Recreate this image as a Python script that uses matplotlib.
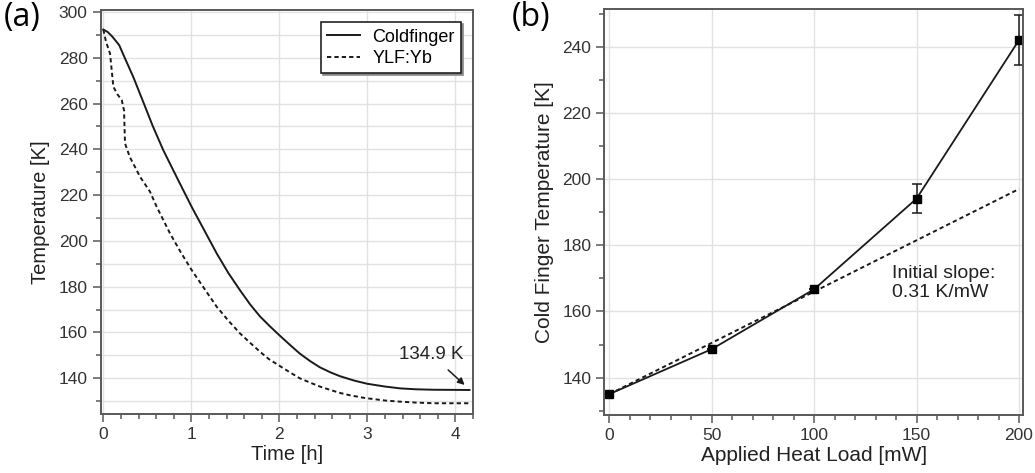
import numpy as np
import matplotlib
matplotlib.use("Agg")
import matplotlib.pyplot as plt
from matplotlib.ticker import MultipleLocator

plt.rcParams['font.family'] = ['Liberation Sans', 'DejaVu Sans']

# (a) cool-down curves
t_cold = [0.0, 0.05, 0.1, 0.18, 0.246, 0.34, 0.454, 0.56, 0.68, 0.851, 1.003,
          1.15, 1.287, 1.42, 1.55, 1.665, 1.78, 1.89, 2.0, 2.12, 2.232, 2.35,
          2.46, 2.58, 2.69, 2.85, 3.0, 3.2, 3.37, 3.55, 3.75, 3.95, 4.16]
T_cold = [292.3, 291.2, 289.3, 285.5, 279.7, 271.6, 260.6, 250.3, 239.7, 226.5, 214.9,
          204.4, 194.6, 186.0, 178.6, 172.4, 167.0, 162.8, 158.8, 154.6, 150.8, 147.5,
          144.8, 142.6, 140.9, 139.0, 137.6, 136.4, 135.6, 135.2, 135.0, 134.95, 134.9]
t_ylf = [0.0, 0.03, 0.076, 0.114, 0.16, 0.209, 0.235, 0.246, 0.3, 0.417, 0.53,
         0.606, 0.757, 0.88, 1.003, 1.15, 1.287, 1.42, 1.55, 1.665, 1.78, 1.88,
         2.0, 2.12, 2.232, 2.35, 2.46, 2.58, 2.69, 2.8, 2.97, 3.2, 3.37, 3.55,
         3.75, 4.16]
T_ylf = [292.3, 287.0, 281.8, 267.3, 264.0, 261.5, 257.0, 242.6, 236.7, 228.0, 221.5,
         214.9, 203.3, 195.0, 187.3, 179.0, 171.3, 165.2, 159.7, 155.6, 151.6, 148.4,
         145.5, 142.6, 140.0, 138.1, 136.4, 134.9, 133.6, 132.6, 131.4, 130.3, 129.8,
         129.4, 129.1, 129.1]

# (b) heat load measurements
load = [0, 50, 100, 150, 200]
T_load = [135.0, 148.6, 166.7, 194.1, 242.0]
T_err = [0.0, 0.0, 0.0, 4.3, 7.5]
slope = 0.31
slope_x = [0, 200]

ink = '#1a1a1a'
spine_c = '#595959'
grid_c = '#e2e2e2'

fig = plt.figure(figsize=(10.35, 4.73), dpi=100)
ax1 = fig.add_axes([0.0973, 0.1247, 0.3597, 0.854])
ax2 = fig.add_axes([0.5839, 0.1226, 0.4048, 0.8584])


def style(ax):
    for s in ax.spines.values():
        s.set_color(spine_c)
        s.set_linewidth(1.4)
    ax.tick_params(which='both', direction='out', top=False, right=False,
                   colors=spine_c, labelcolor='#333333', labelsize=12.5, width=1.1)
    ax.tick_params(which='major', length=6)
    ax.tick_params(which='minor', length=3.5)
    ax.set_axisbelow(True)


# panel (a)
ax1.plot(t_cold, T_cold, color=ink, lw=1.4, label='Coldfinger')
ax1.plot(t_ylf, T_ylf, color=ink, lw=1.4, ls=(0, (2.2, 1.6)), label='YLF:Yb')
ax1.set_xlim(-0.03, 4.2)
ax1.set_ylim(124.4, 300.8)
ax1.xaxis.set_major_locator(MultipleLocator(1))
ax1.xaxis.set_minor_locator(MultipleLocator(0.2))
ax1.yaxis.set_major_locator(MultipleLocator(20))
ax1.yaxis.set_minor_locator(MultipleLocator(10))
style(ax1)
ax1.grid(which='major', color=grid_c, lw=1)
ax1.grid(which='minor', axis='y', color=grid_c, lw=1)
ax1.set_xlabel('Time [h]', fontsize=14.5, color='#222222', labelpad=2)
ax1.set_ylabel('Temperature [K]', fontsize=14.5, color='#222222', labelpad=6)
leg = ax1.legend(loc='upper right', fontsize=13, fancybox=False, framealpha=1,
                 edgecolor='#222222', handlelength=1.8, borderpad=0.35,
                 labelspacing=0.25, handletextpad=0.7, borderaxespad=0,
                 bbox_to_anchor=(0.9685, 0.970),
                 shadow={'ox': 1.5, 'oy': -1.5, 'color': '#888888', 'alpha': 1})
leg.get_frame().set_linewidth(1.2)
ax1.annotate('134.9 K', xy=(4.105, 137.1), xytext=(3.73, 150.2),
             ha='center', va='center', fontsize=13.5, color='#222222',
             arrowprops=dict(arrowstyle='-|>', color=ink, lw=1.1,
                             mutation_scale=10, shrinkA=4, shrinkB=0))
fig.text(0.004, 0.998, '(a)', fontsize=23, family='Open Sans', va='top', ha='left')

# panel (b)
fit_y = [T_load[0] + slope * x for x in slope_x]
ax2.plot(slope_x, fit_y, color=ink, lw=1.4, ls=(0, (2.2, 1.6)))
ax2.errorbar(load, T_load, yerr=T_err, color=ink, lw=1.3, marker='s', ms=6,
             mfc='black', mec='black', capsize=3.5, elinewidth=1.1, capthick=1.1)
ax2.set_xlim(-2.4, 202.1)
ax2.set_ylim(128.7, 251.4)
ax2.xaxis.set_major_locator(MultipleLocator(50))
ax2.xaxis.set_minor_locator(MultipleLocator(10))
ax2.yaxis.set_major_locator(MultipleLocator(20))
ax2.yaxis.set_minor_locator(MultipleLocator(10))
style(ax2)
ax2.grid(which='major', color=grid_c, lw=1)
ax2.set_xlabel('Applied Heat Load [mW]', fontsize=15, color='#222222', labelpad=2)
ax2.set_ylabel('Cold Finger Temperature [K]', fontsize=15, color='#222222', labelpad=6)
ax2.text(138, 168.6, 'Initial slope:\n0.31 K/mW', fontsize=14, color='#222222',
         ha='left', va='center', linespacing=1.2)
fig.text(0.494, 0.998, '(b)', fontsize=23, family='Open Sans', va='top', ha='left')

fig.savefig('out.png', dpi=100)
